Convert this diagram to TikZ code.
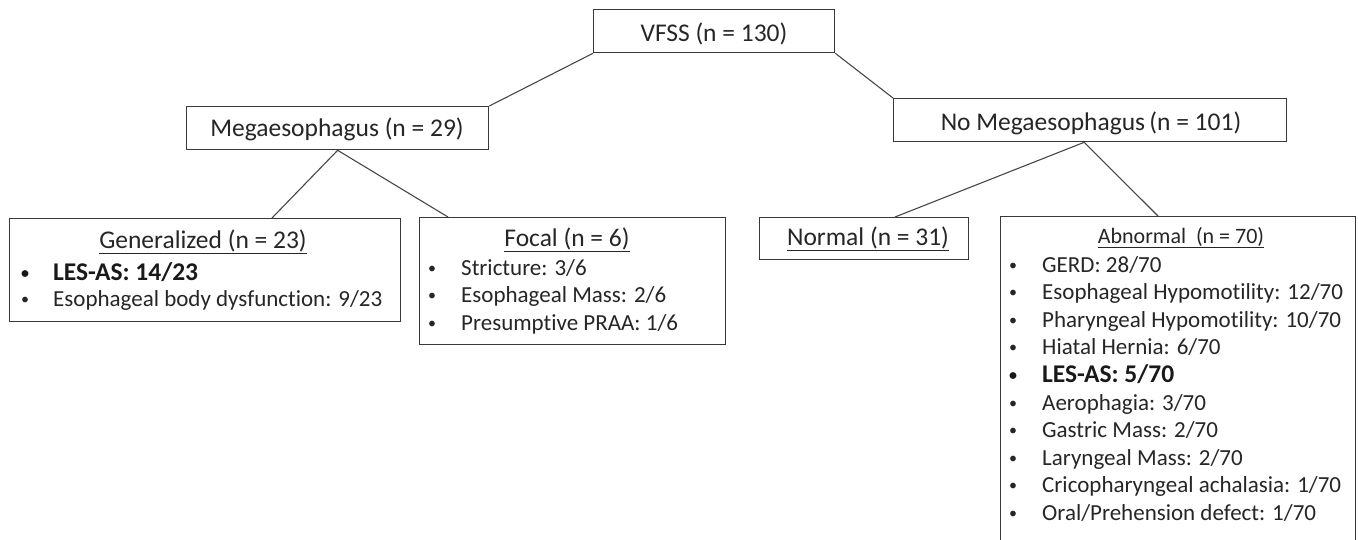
\documentclass[tikz,border=0pt]{standalone}
\usepackage{fontspec}
\setmainfont{Carlito}[Ligatures=NoCommon]
\newcommand\itemdot{\raisebox{2pt}{\fontsize{16}{16}\selectfont\textbullet}}
\tikzset{
  box/.style={draw=black!78, line width=1.3pt, inner sep=0pt, anchor=north west},
  conn/.style={draw=black!72, line width=1.1pt},
  ttl/.style={inner sep=0pt, anchor=base, text=black!85, font=\fontsize{25.5}{30}\selectfont},
  sttl/.style={inner sep=0pt, anchor=base, text=black!85, font=\fontsize{22}{26}\selectfont},
  itm/.style={inner sep=0pt, anchor=base west, text=black!85, font=\fontsize{23}{27}\selectfont},
  bitm/.style={inner sep=0pt, anchor=base west, text=black!90, font=\fontsize{25.5}{30}\selectfont\bfseries},
}
\begin{document}
\begin{tikzpicture}[x=1pt,y=-1pt]
\clip (0,0) rectangle (1358,539);
\fill[white] (0,0) rectangle (1358,539);

% boxes
\node[box, minimum width=241pt, minimum height=43pt] (vfss) at (593,9) {};
\node[box, minimum width=302pt, minimum height=43pt] (mega) at (186,106) {};
\node[box, minimum width=393pt, minimum height=43pt] (nomega) at (893,98) {};
\node[box, minimum width=391pt, minimum height=103pt] (gen) at (9,218) {};
\node[box, minimum width=306pt, minimum height=127pt] (focal) at (419,217) {};
\node[box, minimum width=209pt, minimum height=42pt] (normal) at (759,217) {};
\node[box, minimum width=355pt, minimum height=345pt] (abn) at (1000,216) {};

% titles
\node[ttl] (vfssT) at (714,41) {VFSS (n = 130)};
\node[ttl] (megaT) at (337,136) {Megaesophagus (n = 29)};
\node[ttl] (nomegaT) at (1091,130) {No Megaesophagus\,(n = 101)};
\node[ttl] (genT) at (203,248) {\underline{Generalized (n = 23)}};
\node[ttl] (focalT) at (567,246) {\underline{Focal (n = 6)}};
\node[ttl] (normalT) at (868,245) {\underline{Normal (n = 31)}};
\node[sttl] (abnT) at (1181,243) {\underline{Abnormal\ \ (n = 70)}};

% generalized items
\node[bitm] (g1) at (21,280) {\makebox[32pt][l]{\itemdot}LES-AS: 14/23};
\node[itm] (g2) at (21,306) {\makebox[32pt][l]{\itemdot}Esophageal body dysfunction: 9/23};

% focal items
\node[itm] (f1) at (428,275) {\makebox[33pt][l]{\itemdot}Stricture: 3/6};
\node[itm] (f2) at (428,302) {\makebox[33pt][l]{\itemdot}Esophageal Mass: 2/6};
\node[itm] (f3) at (428,330) {\makebox[33pt][l]{\itemdot}Presumptive PRAA: 1/6};

% abnormal items
\node[itm] (a1) at (1009,272) {\makebox[33pt][l]{\itemdot}GERD: 28/70};
\node[itm] (a2) at (1009,299.6) {\makebox[33pt][l]{\itemdot}Esophageal Hypomotility: 12/70};
\node[itm] (a3) at (1009,327.2) {\makebox[33pt][l]{\itemdot}Pharyngeal Hypomotility: 10/70};
\node[itm] (a4) at (1009,354.8) {\makebox[33pt][l]{\itemdot}Hiatal Hernia: 6/70};
\node[bitm] (a5) at (1009,382.4) {\makebox[33pt][l]{\itemdot}LES-AS: 5/70};
\node[itm] (a6) at (1009,410) {\makebox[33pt][l]{\itemdot}Aerophagia: 3/70};
\node[itm] (a7) at (1009,437.6) {\makebox[33pt][l]{\itemdot}Gastric Mass: 2/70};
\node[itm] (a8) at (1009,465.2) {\makebox[33pt][l]{\itemdot}Laryngeal Mass: 2/70};
\node[itm] (a9) at (1009,492.8) {\makebox[33pt][l]{\itemdot}Cricopharyngeal achalasia: 1/70};
\node[itm] (a10) at (1009,520.4) {\makebox[33pt][l]{\itemdot}Oral/Prehension defect: 1/70};

% connectors
\draw[conn] (vfss.south west) -- (mega.north east);
\draw[conn] (vfss.south east) -- (nomega.north west);
\draw[conn] (mega.south) -- ([xshift=263pt]gen.north west);
\draw[conn] (mega.south) -- ([xshift=29pt]focal.north west);
\draw[conn] ([xshift=-6pt]nomega.south) -- ([xshift=136pt]normal.north west);
\draw[conn] ([xshift=-6pt]nomega.south) -- ([xshift=158pt]abn.north west);
\end{tikzpicture}
\end{document}
